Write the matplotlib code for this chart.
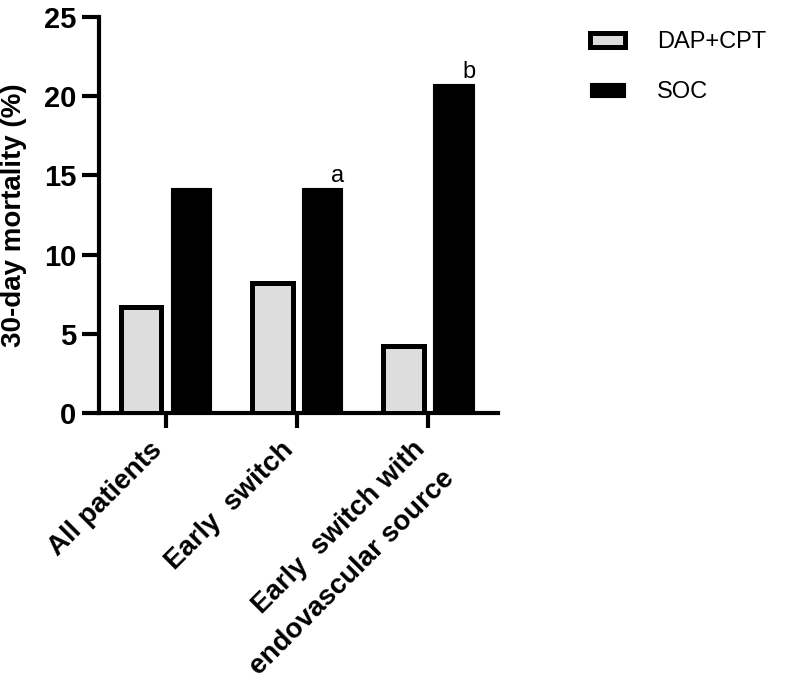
import numpy as np
import matplotlib
matplotlib.use('Agg')
import matplotlib.pyplot as plt
import matplotlib.transforms as mtransforms

plt.rcParams['font.family'] = ['Liberation Sans', 'DejaVu Sans']

# groups and mortality values (%)
groups = ['All patients', 'Early  switch', 'Early  switch with\nendovascular source']
dap_cpt = [6.7, 8.2, 4.2]
soc = [14.2, 14.2, 20.8]
marks = ['', 'a', 'b']

fig = plt.figure(figsize=(7.96, 6.9), dpi=100)
ax = fig.add_axes([99 / 796, 1 - 413 / 690, 399 / 796, 396 / 690])

x = np.arange(len(groups))
w = 0.31
off = 0.19
b1 = ax.bar(x - off, dap_cpt, w, color='#dddddd', edgecolor='black', linewidth=3.6,
            label='DAP+CPT', zorder=3)
b2 = ax.bar(x + off, soc, w, color='black', edgecolor='black', linewidth=0.8,
            label='SOC', zorder=3)

for xi, v, m in zip(x, soc, marks):
    if m:
        ax.text(xi + off + 0.12, v + 0.05, m, ha='center', va='bottom', fontsize=17)

ax.set_xlim(-0.51, 2.53)
ax.set_ylim(0, 25)
ax.set_yticks([0, 5, 10, 15, 20, 25])
ax.set_xticks(x)
ax.set_xticklabels(groups, rotation=45, ha='right', va='top', rotation_mode='anchor',
                   fontsize=20, fontweight='bold', linespacing=1.75)
ax.tick_params(axis='y', labelsize=21, width=3, length=12.5, pad=4)
ax.tick_params(axis='x', width=3, length=11, pad=10)
for t in ax.get_yticklabels():
    t.set_fontweight('bold')
# nudge the rotated labels so they hang left of the ticks
shift = mtransforms.ScaledTranslation(-12 / 72, 4 / 72, fig.dpi_scale_trans)
for t in ax.get_xticklabels():
    t.set_transform(t.get_transform() + shift)
ax.set_ylabel('30-day mortality (%)', fontsize=20, fontweight='bold', labelpad=12)

for s in ['top', 'right']:
    ax.spines[s].set_visible(False)
for s in ['left', 'bottom']:
    ax.spines[s].set_linewidth(3)

fig.legend(handles=[b1, b2], loc='upper left', bbox_to_anchor=(590 / 796, 1 - 31 / 690),
           frameon=False, fontsize=17, borderpad=0, borderaxespad=0,
           handlelength=1.5, handleheight=0.55, handletextpad=1.35, labelspacing=1.2)

plt.savefig('out.png', dpi=100)
